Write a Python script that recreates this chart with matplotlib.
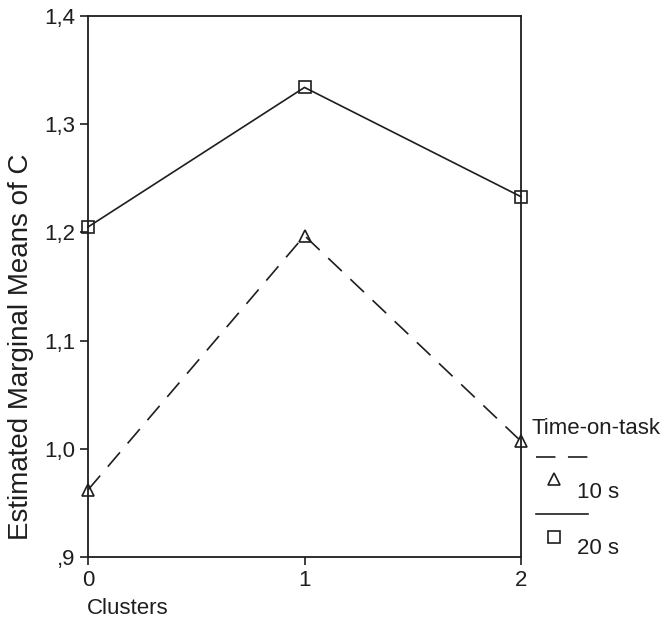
import matplotlib
matplotlib.use("Agg")
import matplotlib.pyplot as plt
from matplotlib.lines import Line2D

plt.rcParams['font.family'] = ['Liberation Sans', 'DejaVu Sans']
plt.rcParams['lines.scale_dashes'] = False

clusters = [0, 1, 2]
series_names = ["10 s", "20 s"]
means_10s = [0.962, 1.197, 1.007]
means_20s = [1.205, 1.334, 1.233]
yticks = [0.9, 1.0, 1.1, 1.2, 1.3, 1.4]
ytick_labels = [",9", "1,0", "1,1", "1,2", "1,3", "1,4"]

W, H = 665, 622
fig = plt.figure(figsize=(W / 100, H / 100), dpi=100)
ax = fig.add_axes([88 / W, 1 - 557 / H, (521 - 88) / W, (557 - 16) / H])

dash = (0, (13.5, 8.5))
lw = 1.2
ink = '#1e1e1e'
ax.plot(clusters, means_10s, color=ink, lw=lw, linestyle=dash,
        marker='^', markersize=9, markerfacecolor='none', markeredgecolor=ink,
        markeredgewidth=1.2, clip_on=False, zorder=3)
ax.plot(clusters, means_20s, color=ink, lw=lw, linestyle='-',
        marker='s', markersize=9, markerfacecolor='none', markeredgecolor=ink,
        markeredgewidth=1.2, clip_on=False, zorder=3)

ax.set_xlim(0, 2)
ax.set_ylim(0.9, 1.4)
ax.set_xticks(clusters)
ax.set_xticklabels([str(c) for c in clusters])
ax.set_yticks(yticks)
ax.set_yticklabels(ytick_labels)
ax.tick_params(direction='out', length=6, width=1.2, labelsize=16, colors=ink, pad=3)
for s in ax.spines.values():
    s.set_linewidth(1.3)
    s.set_color(ink)

fig.text(21 / W, 1 - 347 / H, "Estimated Marginal Means of C", fontsize=20, color=ink,
         rotation=90, ha='center', va='center')
fig.text(87 / W, 1 - 608 / H, "Clusters", fontsize=16, color=ink,
         ha='left', va='center')

# Legend (SPSS style)
fig.text(532 / W, 1 - 429 / H, "Time-on-task", fontsize=16, color=ink,
         ha='left', va='center')
fig.add_artist(Line2D([536 / W, 588 / W], [1 - 457 / H, 1 - 457 / H], transform=fig.transFigure,
                      color=ink, lw=lw, linestyle=(0, (14, 9))))
fig.add_artist(Line2D([554 / W], [1 - 479 / H], transform=fig.transFigure, marker='^',
                      markersize=9, markerfacecolor='none', markeredgecolor=ink,
                      markeredgewidth=1.2, linestyle='none'))
fig.text(577 / W, 1 - 492 / H, series_names[0], fontsize=16, color=ink,
         ha='left', va='center')
fig.add_artist(Line2D([536 / W, 588 / W], [1 - 514 / H, 1 - 514 / H], transform=fig.transFigure,
                      color=ink, lw=lw, linestyle='-'))
fig.add_artist(Line2D([554 / W], [1 - 537 / H], transform=fig.transFigure, marker='s',
                      markersize=8, markerfacecolor='none', markeredgecolor=ink,
                      markeredgewidth=1.2, linestyle='none'))
fig.text(577 / W, 1 - 548 / H, series_names[1], fontsize=16, color=ink,
         ha='left', va='center')

fig.savefig("out.png", dpi=100)
